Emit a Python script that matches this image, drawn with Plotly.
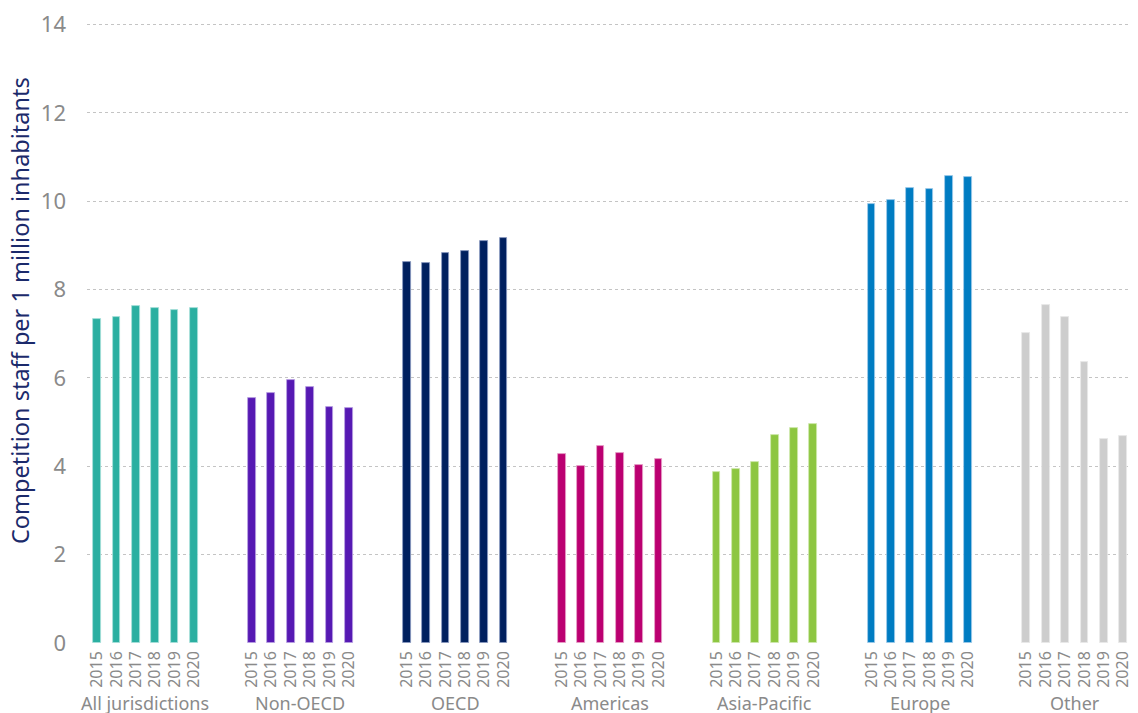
import plotly.graph_objects as go

groups = ["All jurisdictions", "Non-OECD", "OECD", "Americas", "Asia-Pacific", "Europe", "Other"]
years = ["2015", "2016", "2017", "2018", "2019", "2020"]

all_jurisdictions = [7.34, 7.38, 7.63, 7.59, 7.55, 7.58]
non_oecd = [5.54, 5.66, 5.96, 5.80, 5.35, 5.33]
oecd = [8.62, 8.60, 8.82, 8.87, 9.11, 9.18]
americas = [4.28, 4.00, 4.45, 4.31, 4.03, 4.16]
asia_pacific = [3.87, 3.94, 4.10, 4.71, 4.86, 4.95]
europe = [9.95, 10.02, 10.31, 10.28, 10.57, 10.54]
other = [7.01, 7.66, 7.37, 6.36, 4.62, 4.68]

y_title = "Competition staff per 1 million inhabitants"

series = [all_jurisdictions, non_oecd, oecd, americas, asia_pacific, europe, other]
colors = ["#2BAFA1", "#5619B3", "#00205F", "#BB0071", "#8DC641", "#007CC2", "#CDCDCD"]
edge_colors = ["#A8E0DA", "#B9A2E2", "#8C9BC2", "#E7A2C8", "#CFE8AE", "#9FCBEA", "#E8E8E8"]

SLOTS = len(years) + 2

fig = go.Figure()
tickvals, ticktext = [], []
for gi, (name, vals) in enumerate(zip(groups, series)):
    xs = [gi * SLOTS + yi for yi in range(len(years))]
    tickvals += xs
    ticktext += years
    fig.add_trace(go.Bar(
        x=xs, y=vals, name=name, width=0.40,
        marker=dict(color=colors[gi], line=dict(color=edge_colors[gi], width=0.8)),
        showlegend=False,
        hovertemplate=name + " %{customdata}: %{y:.2f}<extra></extra>",
        customdata=years,
    ))
    fig.add_annotation(
        x=gi * SLOTS + (len(years) - 1) / 2, y=0, xref="x", yref="paper",
        yshift=-60, text=name, showarrow=False, yanchor="middle",
        font=dict(family="Noto Sans", size=18, color="#8A8A8A"),
    )

# y-axis title (placed slightly above the plot centre, as in the reference)
fig.add_annotation(
    x=0, y=0.5346, xref="paper", yref="paper", xshift=-67,
    text=y_title, textangle=-90, showarrow=False,
    xanchor="center", yanchor="middle",
    font=dict(family="Noto Sans", size=23.5, color="#1B2A6B"),
)

fig.update_layout(
    width=1130, height=705,
    margin=dict(l=79, r=0, t=14, b=70, autoexpand=False),
    paper_bgcolor="white", plot_bgcolor="white",
    bargap=0,
    font=dict(family="Noto Sans", color="#8A8A8A"),
    xaxis=dict(
        range=[-0.52, 53.77], automargin=False,
        tickmode="array", tickvals=tickvals, ticktext=ticktext,
        tickangle=-90, tickfont=dict(size=16, color="#8A8A8A"),
        showgrid=False, zeroline=False, showline=False, ticks="",
        ticklabelstandoff=4,
    ),
    yaxis=dict(
        range=[0, 14.06], tickvals=[0, 2, 4, 6, 8, 10, 12, 14], automargin=False,
        tickfont=dict(size=22, color="#8A8A8A"),
        showgrid=True, gridcolor="#C4C4C4", griddash="dot", gridwidth=1,
        zeroline=False, showline=False, ticks="", ticklabelstandoff=20,
    ),
)

fig.write_html("out.html")
